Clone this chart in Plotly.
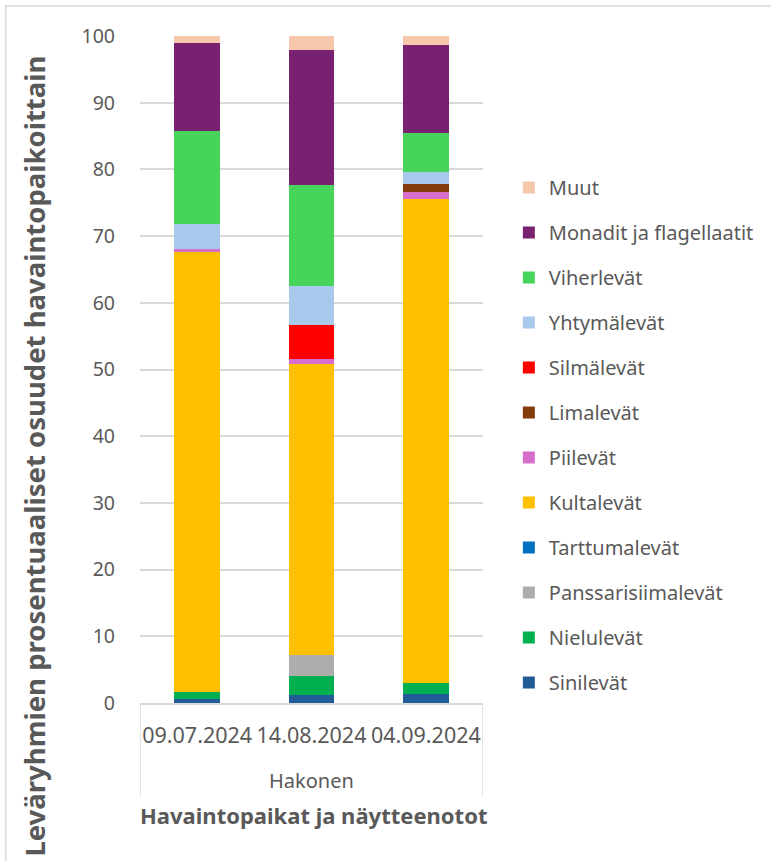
import plotly.graph_objects as go

# Sampling dates at the Hakonen site
site = "Hakonen"
dates = ["09.07.2024", "14.08.2024", "04.09.2024"]

# Algal groups (bottom to top of each stacked bar) and their colours
groups = [
    "Sinilevät", "Nielulevät", "Panssarisiimalevät", "Tarttumalevät",
    "Kultalevät", "Piilevät", "Limalevät", "Silmälevät",
    "Yhtymälevät", "Viherlevät", "Monadit ja flagellaatit", "Muut",
]
colors = [
    "#215C98", "#00B050", "#ADADAD", "#0070C0",
    "#FFC000", "#D86ECC", "#843C0C", "#FF0000",
    "#A6C9EC", "#47D45A", "#782170", "#F7C7AC",
]

# Percentage share of each group per sampling date
sinilevat = [0.6, 1.15, 1.3]
nielulevat = [1.05, 2.9, 1.75]
panssarisiimalevat = [0.0, 3.2, 0.0]
tarttumalevat = [0.0, 0.0, 0.0]
kultalevat = [65.9, 43.6, 72.55]
piilevat = [0.45, 0.7, 1.05]
limalevat = [0.0, 0.0, 1.1]
silmalevat = [0.0, 5.1, 0.0]
yhtymalevat = [3.8, 5.9, 1.9]
viherlevat = [14.0, 15.1, 5.75]
monadit = [13.2, 20.2, 13.2]
muut = [1.0, 2.15, 1.4]

values = [
    sinilevat, nielulevat, panssarisiimalevat, tarttumalevat,
    kultalevat, piilevat, limalevat, silmalevat,
    yhtymalevat, viherlevat, monadit, muut,
]

y_ticks = [0, 10, 20, 30, 40, 50, 60, 70, 80, 90, 100]

FONT = "Noto Sans"
GREY = "#595959"
LINE = "#D9D9D9"

fig = go.Figure()
n = len(groups)
for i, (name, color, vals) in enumerate(zip(groups, colors, values)):
    fig.add_trace(go.Bar(
        x=dates, y=vals, name=name, legendgroup=name,
        legendrank=n - i,
        marker=dict(color=color, line=dict(width=0)),
    ))

W, H = 771, 861
ml, mr, mt, mb = 140, 286, 36, 158
pw, ph = W - ml - mr, H - mt - mb

def px_x(p):
    return (p - ml) / pw

def px_y(p):
    return (H - mb - p) / ph

fig.update_layout(
    width=W, height=H,
    margin=dict(l=ml, r=mr, t=mt, b=mb),
    barmode="stack",
    bargap=0.6,
    plot_bgcolor="white",
    paper_bgcolor="white",
    font=dict(family=FONT, color=GREY, size=18),
    showlegend=True,
    legend=dict(
        traceorder="grouped",
        tracegroupgap=16,
        x=px_x(511), xanchor="left",
        y=px_y(168), yanchor="top",
        font=dict(family=FONT, size=20, color=GREY),
        itemwidth=30,
        bgcolor="rgba(0,0,0,0)",
    ),
    xaxis=dict(
        type="category",
        range=[-0.5, 2.5],
        showgrid=False,
        showline=True, linecolor=LINE, linewidth=1.5,
        ticks="",
        ticklabelstandoff=12,
        tickfont=dict(family=FONT, size=21.5, color=GREY),
    ),
    yaxis=dict(
        range=[0, 100],
        tickvals=y_ticks,
        showgrid=True, gridcolor=LINE, gridwidth=1.5,
        zeroline=False,
        showline=False,
        ticks="",
        ticklabelstandoff=24,
        tickfont=dict(family=FONT, size=19.5, color=GREY),
    ),
    annotations=[
        dict(
            text="<b>Leväryhmien prosentuaaliset osuudet havaintopaikoittain</b>",
            textangle=-90,
            xref="paper", yref="paper",
            x=px_x(33), y=px_y(456),
            xanchor="center", yanchor="middle",
            showarrow=False,
            font=dict(family=FONT, size=27.5, color=GREY),
        ),
        dict(
            text=site,
            xref="x", yref="paper",
            x=1, y=px_y(780),
            xanchor="center", yanchor="middle",
            showarrow=False,
            font=dict(family=FONT, size=20, color=GREY),
        ),
        dict(
            text="<b>Havaintopaikat ja näytteenotot</b>",
            xref="paper", yref="paper",
            x=px_x(315), y=px_y(815),
            xanchor="center", yanchor="middle",
            showarrow=False,
            font=dict(family=FONT, size=22, color=GREY),
        ),
    ],
    shapes=[
        # outer chart frame
        dict(
            type="rect", xref="paper", yref="paper",
            x0=px_x(5), x1=px_x(W + 20),
            y0=px_y(H + 20), y1=px_y(6),
            line=dict(color=LINE, width=1.5),
            fillcolor="rgba(0,0,0,0)",
            layer="below",
        ),
        # group dividers around the site label
        dict(
            type="line", xref="x", yref="paper",
            x0=-0.5, x1=-0.5, y0=0, y1=px_y(797),
            line=dict(color=LINE, width=1.5),
        ),
        dict(
            type="line", xref="x", yref="paper",
            x0=2.5, x1=2.5, y0=0, y1=px_y(797),
            line=dict(color=LINE, width=1.5),
        ),
    ],
)

fig.write_html("out.html")
